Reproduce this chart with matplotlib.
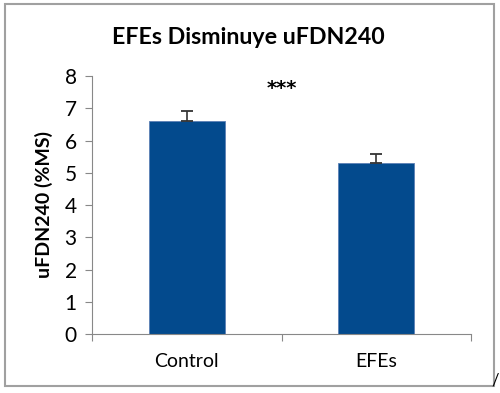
import matplotlib

matplotlib.use("Agg")
import matplotlib.pyplot as plt
from matplotlib.patches import Rectangle

plt.rcParams["font.family"] = ["Lato", "DejaVu Sans"]

categories = ["Control", "EFEs"]
means = [6.6, 5.3]
errors = [0.3, 0.27]
y_ticks = [0, 1, 2, 3, 4, 5, 6, 7, 8]
title = "EFEs Disminuye uFDN240"
ylabel = "uFDN240 (%MS)"
signif = "***"

W, H = 500, 393
fig = plt.figure(figsize=(W / 100, H / 100), dpi=100)
# axes: x 92..471, y 76..334 (pixels)
ax = fig.add_axes([92 / W, 1 - 334 / H, (471 - 92) / W, (334 - 76) / H])

bar_color = "#034A8D"
ax.bar(range(len(categories)), means, width=0.4, color=bar_color,
       edgecolor="#5b7fb5", linewidth=0.6, zorder=2)
ax.errorbar(range(len(categories)), means, yerr=[[0, 0], errors], fmt="none",
            ecolor="#333333", elinewidth=1.2, capsize=4.5, capthick=1.3, zorder=3)

ax.set_xlim(-0.5, len(categories) - 0.5)
ax.set_ylim(0, 8)
ax.set_yticks(y_ticks)
ax.tick_params(axis="y", length=5, width=0.8, color="#888888", labelsize=15, pad=6)
ax.set_xticks([-0.5, 0.5, 1.5])
ax.set_xticklabels([])
ax.tick_params(axis="x", length=5, width=0.8, color="#888888")
for i, c in enumerate(categories):
    ax.text(i, -0.85, c, ha="center", va="center", fontsize=14)

for s in ["top", "right"]:
    ax.spines[s].set_visible(False)
for s in ["left", "bottom"]:
    ax.spines[s].set_color("#888888")
    ax.spines[s].set_linewidth(0.8)

ax.set_ylabel(ylabel, fontsize=14, fontweight="bold", labelpad=8)
ax.text(0.5, 7.62, signif, ha="center", va="center", fontsize=14,
        fontweight="bold", family="DejaVu Sans")

fig.text(248 / W, 1 - 37 / H, title, ha="center", va="center",
         fontsize=16.7, fontweight="bold")

# chart frame
fig.patches.append(Rectangle((5 / W, 1 - 386 / H), (494 - 5) / W, (386 - 4) / H,
                             transform=fig.transFigure, fill=False,
                             edgecolor="#a0a0a0", linewidth=1.5))
fig.text(495 / W, 1 - 381 / H, "/", ha="center", va="center", fontsize=12)

fig.savefig("out.png", dpi=100)
